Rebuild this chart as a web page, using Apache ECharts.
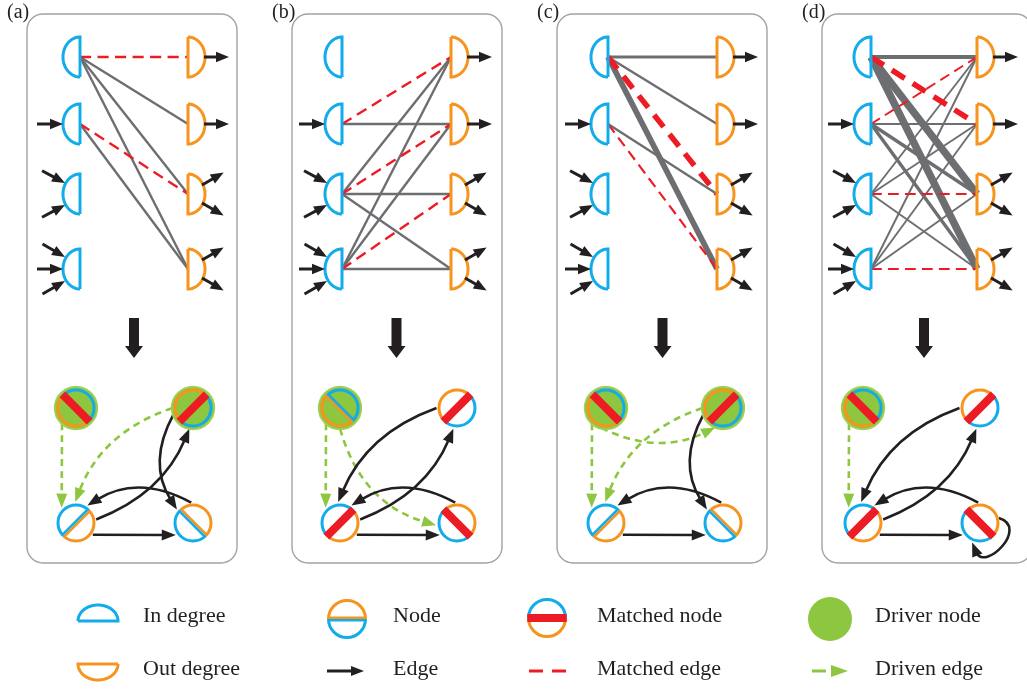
<!DOCTYPE html>
<html>
<head>
<meta charset="utf-8">
<script src="https://cdn.jsdelivr.net/npm/echarts@6/dist/echarts.min.js"></script>
<style>
  html, body { margin: 0; padding: 0; background: #fff; }
  #chart { width: 1027px; height: 689px; }
</style>
</head>
<body>
<div id="chart"></div>
<script>
// ---------- data ----------
const panelLabels = ['(a)', '(b)', '(c)', '(d)'];

// incoming links at each in-degree half node, outgoing links at each out-degree half node
const inStubs = [0, 1, 2, 3];
const outStubs = [1, 1, 2, 2];

// bipartite links: [in node, out node, weight, matched]
const linksA = [[0, 1, 1, 0], [0, 2, 1, 0], [0, 3, 1, 0], [1, 3, 1, 0], [0, 0, 1, 1], [1, 2, 1, 1]];
const linksB = [[1, 1, 1, 0], [2, 0, 1, 0], [2, 2, 1, 0], [2, 3, 1, 0], [3, 0, 1, 0], [3, 1, 1, 0], [3, 3, 1, 0],
                [1, 0, 1, 1], [2, 1, 1, 1], [3, 2, 1, 1]];
const linksC = [[0, 0, 1.3, 0], [0, 1, 1, 0], [0, 3, 2.4, 0], [1, 2, 1, 0], [0, 2, 2.3, 1], [1, 3, 0.9, 1]];
const linksD = [[0, 0, 1.7, 0], [0, 2, 3.1, 0], [0, 3, 3.1, 0], [1, 1, 0.8, 0], [1, 2, 1.4, 0], [1, 3, 1.4, 0],
                [2, 0, 0.8, 0], [2, 1, 0.8, 0], [2, 3, 0.8, 0], [3, 0, 0.8, 0], [3, 1, 0.8, 0], [3, 2, 0.8, 0],
                [0, 1, 2.3, 1], [1, 0, 0.8, 1], [2, 2, 0.9, 1], [3, 3, 0.9, 1]];

// network nodes: 0 top-left, 1 top-right, 2 bottom-left, 3 bottom-right
const matchedA = [1, 1, 0, 0];
const matchedB = [0, 1, 1, 1];
const matchedC = [1, 1, 0, 0];
const matchedD = [1, 1, 1, 1];
const driverA = [1, 1, 0, 0];
const driverB = [1, 0, 0, 0];
const driverC = [1, 1, 0, 0];
const driverD = [1, 0, 0, 0];

// directed edges [from, to]
const edgesA = [[2, 3], [3, 2], [2, 1], [1, 3]];
const edgesB = [[2, 3], [3, 2], [2, 1], [1, 2]];
const edgesC = [[2, 3], [3, 2], [1, 3]];
const edgesD = [[2, 3], [3, 2], [2, 1], [1, 2], [3, 3]];

// driven edges from driver nodes [from, to]
const drivenA = [[0, 2], [1, 2]];
const drivenB = [[0, 2], [0, 3]];
const drivenC = [[0, 2], [0, 1], [1, 2]];
const drivenD = [[0, 2]];

const legendLabels = ['In degree', 'Out degree', 'Node', 'Edge', 'Matched node', 'Matched edge', 'Driver node', 'Driven edge'];

// ---------- layout & style ----------
const LINKS = [linksA, linksB, linksC, linksD];
const MATCHED = [matchedA, matchedB, matchedC, matchedD];
const DRIVER = [driverA, driverB, driverC, driverD];
const EDGES = [edgesA, edgesB, edgesC, edgesD];
const DRIVEN = [drivenA, drivenB, drivenC, drivenD];

const COL = {
  blue: '#12ACEB', orange: '#F7941D', red: '#ED1C24', green: '#8DC63F', greenEdge: '#A3D05C',
  gray: '#6D6E71', ink: '#231F20', frame: '#A3A3A3'
};
const FONT = '"Liberation Serif", "DejaVu Serif", serif';
const D = Math.PI / 180;

const BOX_LEFT = [27, 292, 557, 822];
const BOX_W = 210, BOX_TOP = 14, BOX_BOTTOM = 563;
const BIP_X = [[80, 188], [342, 451], [608, 717], [871, 977]];
const BIP_Y = [57, 124, 194, 269];
const NET_X = [[76, 193], [340, 457], [606, 723], [863, 980]];
const NET_Y = [408, 523];
const ORIENT = [135, 225, 45, -45];   // direction of the out-degree (orange) half
const NODE_R = 18;

// edge shapes: attachment angles on source/target and bend of the curve
const EDGE_SHAPE = {
  '2-3': { a0: 35, a1: 145, bend: 0 },
  '3-2': { a0: -95, a1: -57, bend: 30 },
  '2-1': { a0: -10, a1: 100, bend: 28 },
  '1-2': { a0: 180, a1: -95, bend: 30 },
  '1-3': { a0: 162, a1: -140, bend: 28 }
};
const DRIVEN_SHAPE = {
  '0-2': { a0: 133, a1: -133, bend: 0 },
  '1-2': { a0: 180, a1: -92, bend: 32 },
  '0-3': { a0: 90, a1: 174, bend: 38 },
  '0-1': { a0: 104, a1: 112, bend: 28 }
};

// ---------- drawing helpers ----------
function seg(p0, p1, color, w, dash) {
  const st = { stroke: color, lineWidth: w, fill: 'none' };
  if (dash) st.lineDash = dash;
  return { type: 'line', shape: { x1: p0[0], y1: p0[1], x2: p1[0], y2: p1[1] }, style: st };
}
function head(tip, ux, uy, len, half, color) {
  const bx = tip[0] - ux * len, by = tip[1] - uy * len;
  return {
    type: 'polygon',
    shape: { points: [[tip[0], tip[1]], [bx - uy * half, by + ux * half], [bx + uy * half, by - ux * half]] },
    style: { fill: color }
  };
}
function arrow(p0, tip, color, w, len, half) {
  const dx = tip[0] - p0[0], dy = tip[1] - p0[1], L = Math.hypot(dx, dy);
  const ux = dx / L, uy = dy / L;
  return [seg(p0, [tip[0] - ux * len * 0.8, tip[1] - uy * len * 0.8], color, w), head(tip, ux, uy, len, half, color)];
}
function label(str, p, size, align) {
  return {
    type: 'text',
    style: { text: str, x: p[0], y: p[1], fill: COL.ink, font: size + 'px ' + FONT, align: align || 'left', verticalAlign: 'middle' }
  };
}
function halfOval(c, dirDeg, half, depth, color, w) {
  const a = dirDeg * D, u = [Math.cos(a), Math.sin(a)], v = [-Math.sin(a), Math.cos(a)];
  const pts = [];
  for (let k = 0; k <= 40; k++) {
    const t = -Math.PI / 2 + Math.PI * k / 40;
    pts.push([c[0] + depth * Math.cos(t) * u[0] + half * Math.sin(t) * v[0],
              c[1] + depth * Math.cos(t) * u[1] + half * Math.sin(t) * v[1]]);
  }
  pts.push(pts[0]);
  return { type: 'polyline', shape: { points: pts }, style: { stroke: color, lineWidth: w, fill: 'none', lineJoin: 'miter' } };
}
function netNode(c, phiDeg, matched, driver, r) {
  const phi = phiDeg * D;
  const u = [Math.cos(phi), Math.sin(phi)], v = [-Math.sin(phi), Math.cos(phi)];
  const out = [];
  if (driver) {
    out.push({ type: 'circle', shape: { cx: c[0], cy: c[1], r: r + 3.4 }, style: { fill: COL.green, stroke: COL.greenEdge, lineWidth: 1.6 } });
  } else {
    out.push({ type: 'circle', shape: { cx: c[0], cy: c[1], r: r }, style: { fill: '#fff' } });
  }
  out.push({ type: 'arc', shape: { cx: c[0], cy: c[1], r: r, startAngle: phi - Math.PI / 2, endAngle: phi + Math.PI / 2, clockwise: true },
             style: { stroke: COL.orange, lineWidth: 3, fill: 'none' } });
  out.push({ type: 'arc', shape: { cx: c[0], cy: c[1], r: r, startAngle: phi + Math.PI / 2, endAngle: phi + Math.PI * 1.5, clockwise: true },
             style: { stroke: COL.blue, lineWidth: 3, fill: 'none' } });
  if (matched) {
    const e = r + 1.2;
    out.push(seg([c[0] - v[0] * e, c[1] - v[1] * e], [c[0] + v[0] * e, c[1] + v[1] * e], COL.red, 8));
  } else {
    const o = 1.3, e = r;
    out.push(seg([c[0] + u[0] * o - v[0] * e, c[1] + u[1] * o - v[1] * e], [c[0] + u[0] * o + v[0] * e, c[1] + u[1] * o + v[1] * e], COL.orange, 2.6));
    out.push(seg([c[0] - u[0] * o - v[0] * e, c[1] - u[1] * o - v[1] * e], [c[0] - u[0] * o + v[0] * e, c[1] - u[1] * o + v[1] * e], COL.blue, 2.6));
  }
  return out;
}
function curvedEdge(cs, ce, shp, color, w, dash, r) {
  const p0 = [cs[0] + (r + 2.5) * Math.cos(shp.a0 * D), cs[1] + (r + 2.5) * Math.sin(shp.a0 * D)];
  const tip = [ce[0] + (r + 3) * Math.cos(shp.a1 * D), ce[1] + (r + 3) * Math.sin(shp.a1 * D)];
  const dx = tip[0] - p0[0], dy = tip[1] - p0[1], L = Math.hypot(dx, dy);
  const n = [-dy / L, dx / L];
  const cp = [(p0[0] + tip[0]) / 2 + n[0] * shp.bend, (p0[1] + tip[1]) / 2 + n[1] * shp.bend];
  let ex = tip[0] - cp[0], ey = tip[1] - cp[1];
  const el = Math.hypot(ex, ey); ex /= el; ey /= el;
  const hl = 14, hh = 5.5;
  const end = [tip[0] - ex * hl * 0.8, tip[1] - ey * hl * 0.8];
  const st = { stroke: color, lineWidth: w, fill: 'none' };
  if (dash) st.lineDash = dash;
  return [
    { type: 'bezierCurve', shape: { x1: p0[0], y1: p0[1], cpx1: cp[0], cpy1: cp[1], x2: end[0], y2: end[1] }, style: st },
    head(tip, ex, ey, hl, hh, color)
  ];
}
function selfLoop(c, color, w, r) {
  const p0 = [c[0] + (r + 1.5) * Math.cos(-15 * D), c[1] + (r + 1.5) * Math.sin(-15 * D)];
  const tip = [c[0] + (r + 3) * Math.cos(112 * D), c[1] + (r + 3) * Math.sin(112 * D)];
  const c1 = [c[0] + 50 * Math.cos(5 * D), c[1] + 50 * Math.sin(5 * D)];
  const c2 = [c[0] + 50 * Math.cos(85 * D), c[1] + 50 * Math.sin(85 * D)];
  let ex = tip[0] - c2[0], ey = tip[1] - c2[1];
  const el = Math.hypot(ex, ey); ex /= el; ey /= el;
  const end = [tip[0] - ex * 10, tip[1] - ey * 10];
  return [
    { type: 'bezierCurve', shape: { x1: p0[0], y1: p0[1], cpx1: c1[0], cpy1: c1[1], cpx2: c2[0], cpy2: c2[1], x2: end[0], y2: end[1] },
      style: { stroke: color, lineWidth: w, fill: 'none' } },
    head(tip, ex, ey, 14, 5.5, color)
  ];
}

// ---------- panel renderer ----------
function renderPanel(params, api) {
  const i = api.value(0);
  const P = (x, y) => api.coord([x, y]);
  const g = [];

  // frame and caption
  const left = BOX_LEFT[i];
  const a = P(left, BOX_TOP), b = P(left + BOX_W, BOX_BOTTOM);
  g.push({ type: 'rect', shape: { x: a[0], y: a[1], width: b[0] - a[0], height: b[1] - a[1], r: 16 },
           style: { fill: '#fff', stroke: COL.frame, lineWidth: 1.4 } });
  g.push(label(panelLabels[i], P(left - 20, 13), 20));

  // bipartite links: plain first, matched on top
  const fxIn = BIP_X[i][0], fxOut = BIP_X[i][1];
  const links = LINKS[i].filter(l => !l[3]).concat(LINKS[i].filter(l => l[3]));
  links.forEach(([s, t, wt, m]) => {
    const w = 2.4 * wt;
    g.push(seg(P(fxIn, BIP_Y[s]), P(fxOut, BIP_Y[t]), m ? COL.red : COL.gray, w, m ? [8 + 1.3 * w, 4 + w] : null));
  });

  // half nodes and their external links
  BIP_Y.forEach((y, k) => {
    const ci = P(fxIn, y), co = P(fxOut, y);
    g.push(halfOval(ci, 180, 20, 17, COL.blue, 3));
    g.push(halfOval(co, 0, 20, 17, COL.orange, 3));
    const nIn = inStubs[k];
    const ins = nIn === 1 ? [[-17, 0, 0]] : nIn === 2 ? [[-15, -11, 28], [-15, 11, -28]] : nIn === 3 ? [[-15, -12, 30], [-17, 0, 0], [-15, 12, -30]] : [];
    ins.forEach(([ox, oy, ang]) => {
      const tip = [ci[0] + ox, ci[1] + oy];
      const tail = [tip[0] - 26 * Math.cos(ang * D), tip[1] - 26 * Math.sin(ang * D)];
      g.push(...arrow(tail, tip, COL.ink, 3, 13, 5.2));
    });
    const nOut = outStubs[k];
    const outs = nOut === 1 ? [[16, 0, 0]] : [[14, -9, -30], [14, 9, 30]];
    outs.forEach(([ox, oy, ang]) => {
      const st = [co[0] + ox, co[1] + oy];
      const tip = [st[0] + 25 * Math.cos(ang * D), st[1] + 25 * Math.sin(ang * D)];
      g.push(...arrow(st, tip, COL.ink, 3, 13, 5.2));
    });
  });

  // transition arrow
  const mx = (fxIn + fxOut) / 2;
  const t0 = P(mx, 318), t1 = P(mx, 346), t2 = P(mx, 358);
  g.push({ type: 'polygon', shape: { points: [
    [t0[0] - 5, t0[1]], [t0[0] + 5, t0[1]], [t1[0] + 5, t1[1]], [t1[0] + 9, t1[1]],
    [t2[0], t2[1]], [t1[0] - 9, t1[1]], [t1[0] - 5, t1[1]]] }, style: { fill: COL.ink } });

  // network
  const centers = [0, 1, 2, 3].map(k => P(NET_X[i][k & 1], NET_Y[k >> 1]));
  DRIVEN[i].forEach(([s, t]) => {
    g.push(...curvedEdge(centers[s], centers[t], DRIVEN_SHAPE[s + '-' + t], COL.green, 2.6, [7, 5], NODE_R));
  });
  EDGES[i].forEach(([s, t]) => {
    if (s === t) g.push(...selfLoop(centers[s], COL.ink, 2.6, NODE_R));
    else g.push(...curvedEdge(centers[s], centers[t], EDGE_SHAPE[s + '-' + t], COL.ink, 2.6, null, NODE_R));
  });
  centers.forEach((c, k) => g.push(...netNode(c, ORIENT[k], MATCHED[i][k], DRIVER[i][k], NODE_R)));

  return { type: 'group', children: g };
}

// ---------- legend renderer ----------
const LEG_ICON_X = [98, 347, 547, 830];
const LEG_TEXT_X = [143, 393, 597, 875];
const LEG_Y = [617, 670];
function renderLegend(params, api) {
  const i = api.value(0);
  const col = i >> 1, row = i & 1;
  const P = (x, y) => api.coord([x, y]);
  const ix = LEG_ICON_X[col], y = LEG_Y[row];
  const g = [];
  switch (i) {
    case 0: g.push(halfOval(P(ix, y + 4), -90, 20, 16, COL.blue, 3)); break;
    case 1: g.push(halfOval(P(ix, y - 6), 90, 20, 16, COL.orange, 3)); break;
    case 2: g.push(...netNode(P(ix, y + 2), -90, 0, 0, 18.5)); break;
    case 3: g.push(...arrow(P(ix - 20, y + 1), P(ix + 17, y + 1), COL.ink, 3, 13, 5)); break;
    case 4: g.push(...netNode(P(ix, y + 1), 90, 1, 0, 18.5)); break;
    case 5: g.push(seg(P(ix - 18, y + 1), P(ix + 19, y + 1), COL.red, 3, [14, 9])); break;
    case 6: g.push({ type: 'circle', shape: { cx: P(ix, y + 2)[0], cy: P(ix, y + 2)[1], r: 22 }, style: { fill: COL.green } }); break;
    case 7: {
      g.push(seg(P(ix - 18, y + 1), P(ix - 4, y + 1), COL.green, 3));
      const tip = P(ix + 18, y + 1);
      g.push(head(tip, 1, 0, 17, 6, COL.green));
      break;
    }
  }
  g.push(label(legendLabels[i], P(LEG_TEXT_X[col], y - 1), 22));
  return { type: 'group', children: g };
}

// ---------- chart ----------
const chart = echarts.init(document.getElementById('chart'), null, { renderer: 'canvas' });
chart.setOption({
  animation: false,
  backgroundColor: '#fff',
  grid: { left: 0, right: 0, top: 0, bottom: 0 },
  xAxis: { type: 'value', min: 0, max: 1027, show: false },
  yAxis: { type: 'value', min: 0, max: 689, inverse: true, show: false },
  series: [
    {
      type: 'custom', coordinateSystem: 'cartesian2d', clip: false,
      data: panelLabels.map((_, k) => [k, 0]),
      renderItem: renderPanel
    },
    {
      type: 'custom', coordinateSystem: 'cartesian2d', clip: false,
      data: legendLabels.map((_, k) => [k, 0]),
      renderItem: renderLegend
    }
  ]
});
</script>
</body>
</html>
